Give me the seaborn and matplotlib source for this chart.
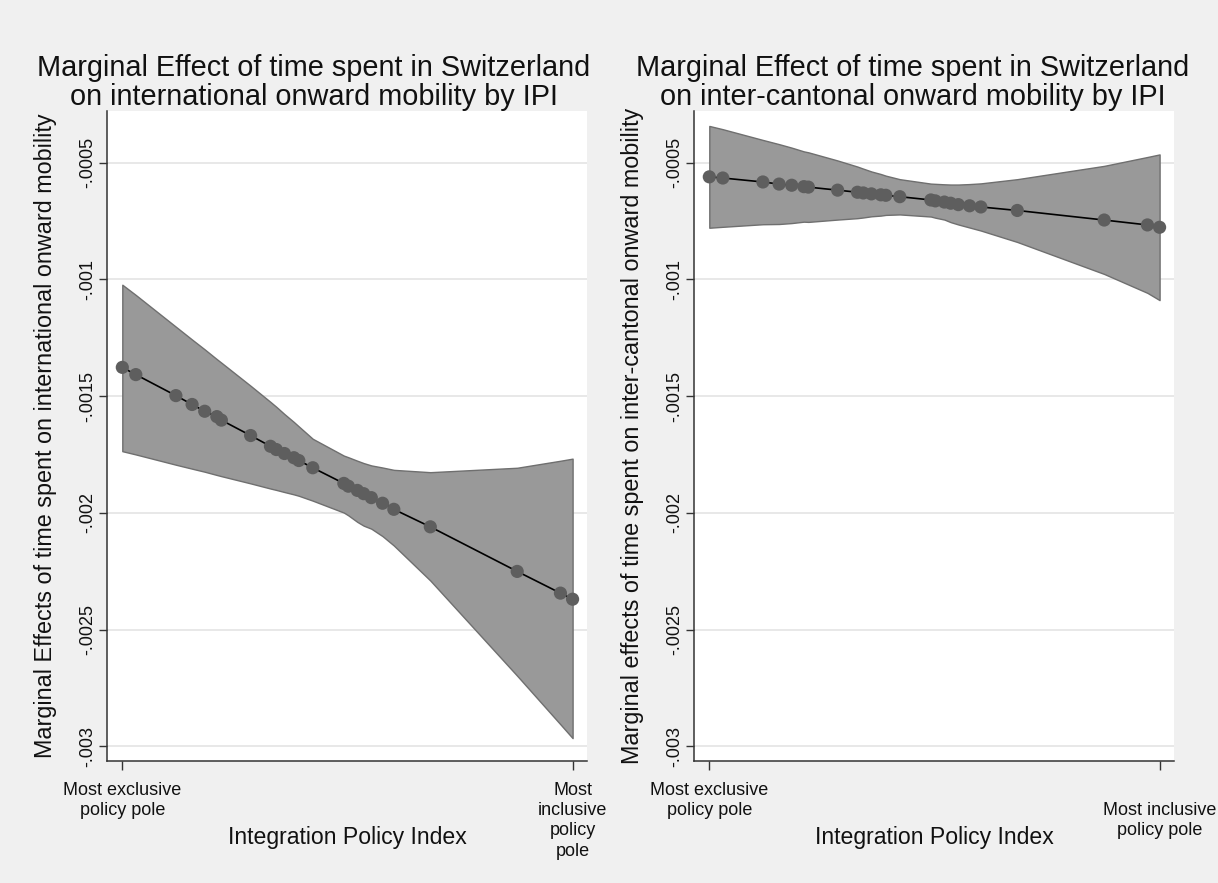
import matplotlib
matplotlib.use("Agg")
import matplotlib.pyplot as plt
import pandas as pd
import seaborn as sns

# Integration Policy Index positions (0 = most exclusive pole, 1 = most inclusive pole)
ipi = [0.000, 0.030, 0.119, 0.155, 0.183, 0.210, 0.220, 0.285, 0.329, 0.342,
       0.360, 0.381, 0.392, 0.423, 0.492, 0.502, 0.522, 0.536, 0.553, 0.578,
       0.603, 0.684, 0.877, 0.973, 1.000]

# International onward mobility: marginal effect and 95% CI
intl_est = [-0.001377, -0.001408, -0.001498, -0.001536, -0.001565, -0.001588,
            -0.001603, -0.001669, -0.001715, -0.001729, -0.001746, -0.001764,
            -0.001776, -0.001807, -0.001874, -0.001886, -0.001904, -0.001918,
            -0.001935, -0.001959, -0.001985, -0.002060, -0.002251, -0.002344,
            -0.002370]
intl_hi = [-0.001023, -0.001067, -0.001203, -0.001258, -0.001300, -0.001342,
           -0.001357, -0.001456, -0.001525, -0.001546, -0.001577, -0.001611,
           -0.001630, -0.001683, -0.001755, -0.001762, -0.001777, -0.001787,
           -0.001797, -0.001806, -0.001816, -0.001826, -0.001807, -0.001777,
           -0.001768]
intl_lo = [-0.001736, -0.001750, -0.001794, -0.001811, -0.001824, -0.001838,
           -0.001843, -0.001874, -0.001896, -0.001902, -0.001911, -0.001921,
           -0.001927, -0.001948, -0.001999, -0.002011, -0.002039, -0.002055,
           -0.002068, -0.002100, -0.002140, -0.002290, -0.002698, -0.002906,
           -0.002965]

# Inter-cantonal onward mobility: marginal effect and 95% CI
cant_est = [-0.000561, -0.000566, -0.000583, -0.000592, -0.000597, -0.000603,
            -0.000605, -0.000618, -0.000627, -0.000630, -0.000634, -0.000638,
            -0.000640, -0.000646, -0.000660, -0.000664, -0.000669, -0.000674,
            -0.000680, -0.000685, -0.000690, -0.000705, -0.000746, -0.000767,
            -0.000777]
cant_hi = [-0.000343, -0.000357, -0.000403, -0.000421, -0.000436, -0.000452,
           -0.000456, -0.000491, -0.000517, -0.000526, -0.000538, -0.000549,
           -0.000556, -0.000571, -0.000590, -0.000591, -0.000593, -0.000594,
           -0.000594, -0.000592, -0.000589, -0.000571, -0.000514, -0.000476,
           -0.000465]
cant_lo = [-0.000779, -0.000775, -0.000764, -0.000763, -0.000759, -0.000753,
           -0.000754, -0.000744, -0.000738, -0.000735, -0.000730, -0.000727,
           -0.000724, -0.000722, -0.000731, -0.000736, -0.000744, -0.000755,
           -0.000765, -0.000778, -0.000791, -0.000840, -0.000977, -0.001058,
           -0.001089]

titles = [
    "Marginal Effect of time spent in Switzerland\non international onward mobility by IPI",
    "Marginal Effect of time spent in Switzerland\non inter-cantonal onward mobility by IPI",
]
y_labels = [
    "Marginal Effects of time spent on international onward mobility",
    "Marginal effects of time spent on inter-cantonal onward mobility",
]
x_label = "Integration Policy Index"
x_ticks = [0, 1]
x_ticklabels = [
    ["Most exclusive\npolicy pole", "Most\ninclusive\npolicy\npole"],
    ["Most exclusive\npolicy pole", "\nMost inclusive\npolicy pole"],
]
y_ticks = [-0.0005, -0.001, -0.0015, -0.002, -0.0025, -0.003]
y_ticklabels = ["-.0005", "-.001", "-.0015", "-.002", "-.0025", "-.003"]

sns.set_theme(style="white")
plt.rcParams["font.family"] = ["Liberation Sans", "DejaVu Sans"]

BG = "#f0f0f0"
BAND = "#999999"
BAND_EDGE = "#6f6f6f"
DOT = "#5e5e5e"
GRID = "#e4e4e4"
AXIS = "#333333"

fig = plt.figure(figsize=(12.18, 8.83), dpi=100, facecolor=BG)
W, H = 1218, 883
top_px, bot_px = 111, 761
axes = [
    fig.add_axes([107 / W, 1 - bot_px / H, 480 / W, (bot_px - top_px) / H]),
    fig.add_axes([694 / W, 1 - bot_px / H, 480 / W, (bot_px - top_px) / H]),
]

panels = [
    (intl_est, intl_lo, intl_hi),
    (cant_est, cant_lo, cant_hi),
]
title_x = [0.431, 0.456]

for i, (ax, (est, lo, hi)) in enumerate(zip(axes, panels)):
    df = pd.DataFrame({"ipi": ipi, "est": est, "lo": lo, "hi": hi})
    ax.set_facecolor("white")

    ax.fill_between(df["ipi"], df["lo"], df["hi"], facecolor=BAND,
                    edgecolor=BAND_EDGE, linewidth=1.0, zorder=2)
    sns.lineplot(data=df, x="ipi", y="est", ax=ax, color="black",
                 linewidth=1.2, estimator=None, sort=True, zorder=3)
    sns.scatterplot(data=df, x="ipi", y="est", ax=ax, color=DOT, s=90,
                    edgecolor="none", linewidth=0, zorder=4)

    ax.set_xlim(-0.034, 1.032)
    ax.set_ylim(-0.003063, -0.000279)

    ax.set_yticks(y_ticks)
    ax.set_yticklabels(y_ticklabels, rotation=90, va="center", fontsize=13)
    ax.set_xticks(x_ticks)
    ax.set_xticklabels(x_ticklabels[i], fontsize=13, linespacing=1.25)

    ax.yaxis.grid(True, color=GRID, linewidth=1.2, zorder=0)
    ax.xaxis.grid(False)
    ax.set_axisbelow(True)

    for side in ("top", "right"):
        ax.spines[side].set_visible(False)
    for side in ("left", "bottom"):
        ax.spines[side].set_color(AXIS)
        ax.spines[side].set_linewidth(1.1)

    ax.tick_params(axis="y", which="major", left=True, length=6, width=1.0,
                   color=AXIS, pad=2, labelcolor="#111111")
    ax.tick_params(axis="x", which="major", bottom=True, length=6.5, width=1.0,
                   color=AXIS, pad=8.5, labelcolor="#111111")

    ax.set_xlabel(x_label, fontsize=16.6, color="#111111", va="center")
    ax.xaxis.set_label_coords(0.5, -0.118)
    ax.set_ylabel(y_labels[i], fontsize=16.8, color="#111111", va="center")
    ax.yaxis.set_label_coords(-0.129, 0.5)

    ax.set_title(titles[i], fontsize=20.8, color="#111111", x=title_x[i],
                 pad=4, linespacing=1.05)

fig.savefig("out.png", dpi=100, facecolor=BG)
